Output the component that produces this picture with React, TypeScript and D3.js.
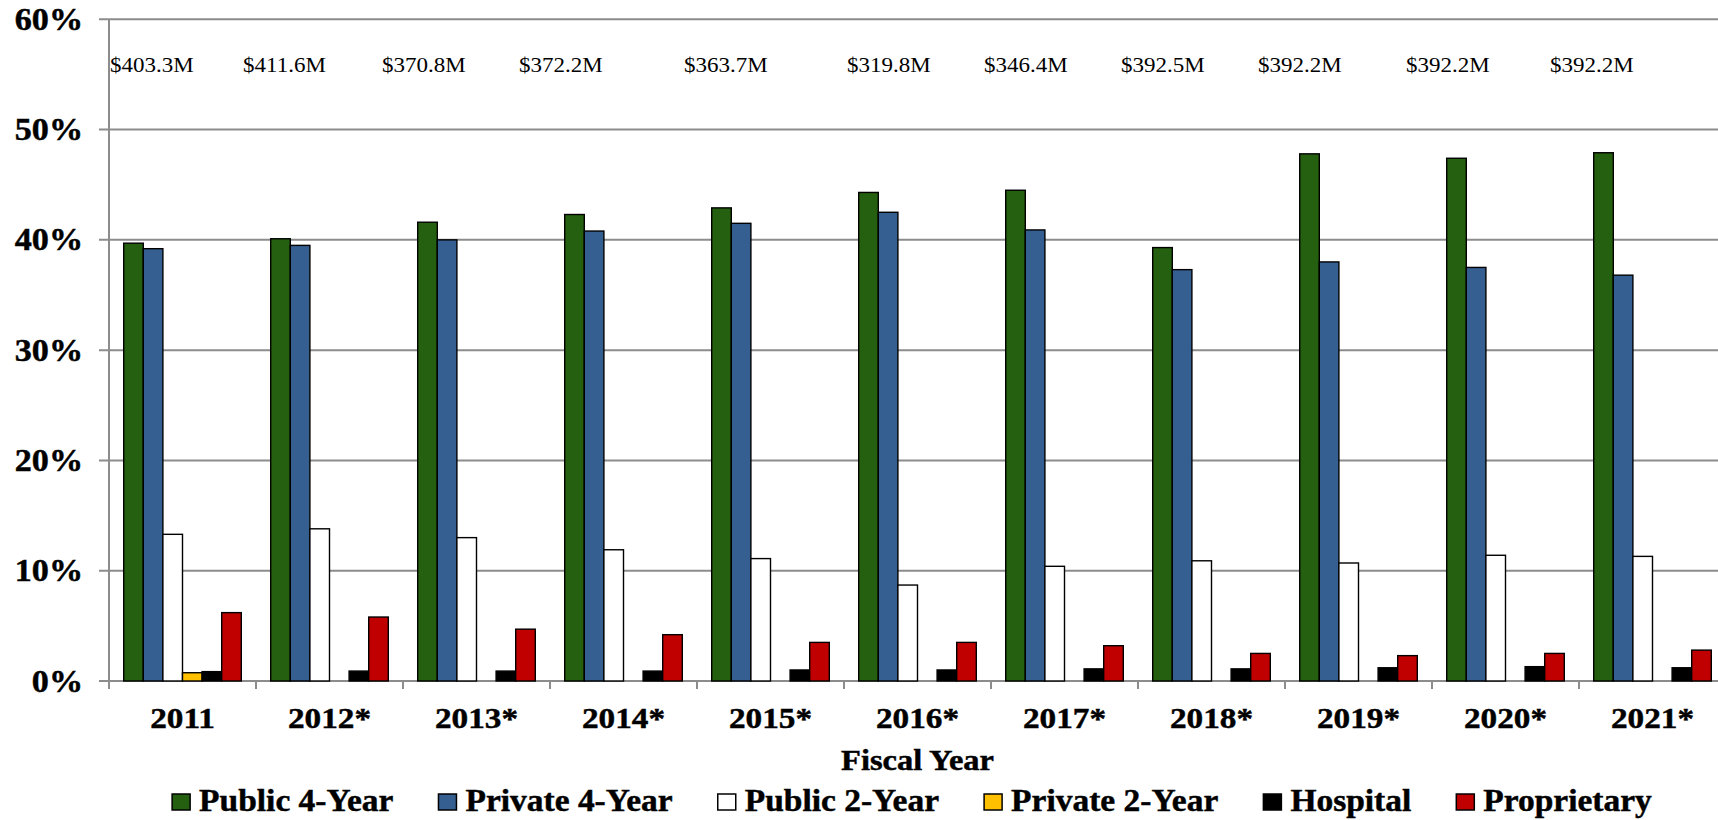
import { useMemo } from "react";
import * as d3 from "d3";

const years = ["2011", "2012*", "2013*", "2014*", "2015*", "2016*", "2017*", "2018*", "2019*", "2020*", "2021*"];
const totals = ["$403.3M", "$411.6M", "$370.8M", "$372.2M", "$363.7M", "$319.8M", "$346.4M", "$392.5M", "$392.2M", "$392.2M", "$392.2M"];

const public4 = [39.7, 40.1, 41.6, 42.3, 42.9, 44.3, 44.5, 39.3, 47.8, 47.4, 47.9];
const private4 = [39.2, 39.5, 40.0, 40.8, 41.5, 42.5, 40.9, 37.3, 38.0, 37.5, 36.8];
const public2 = [13.3, 13.8, 13.0, 11.9, 11.1, 8.7, 10.4, 10.9, 10.7, 11.4, 11.3];
const private2 = [0.75, 0, 0, 0, 0, 0, 0, 0, 0, 0, 0];
const hospital = [0.85, 0.9, 0.9, 0.9, 1.0, 1.0, 1.1, 1.1, 1.2, 1.3, 1.2];
const proprietary = [6.2, 5.8, 4.7, 4.2, 3.5, 3.5, 3.2, 2.5, 2.3, 2.5, 2.8];

const seriesNames = ["Public 4-Year", "Private 4-Year", "Public 2-Year", "Private 2-Year", "Hospital", "Proprietary"];
const seriesValues = [public4, private4, public2, private2, hospital, proprietary];
const seriesColors = ["#24600f", "#365f91", "#ffffff", "#ffc000", "#000000", "#c00000"];

// the text boxes with the totals were placed by hand, not centred on the groups
const TOTAL_SHIFT = [1, -13, -21, -31, -13, 3, -7, -17, -27, -26, -29];

const W = 1718;
const H = 820;
const FONT = "'Liberation Serif', 'Times New Roman', serif";
const LEFT = 109;
const STEP = 147;

const Txt = ({ x, y, size, weight = "bold", anchor = "middle", sx = 1.1, children }: any) => (
  <text
    transform={`translate(${x},${y}) scale(${sx},1)`}
    textAnchor={anchor}
    fontFamily={FONT}
    fontSize={size}
    fontWeight={weight}
    fill="#000"
    stroke={weight === "bold" ? "#000" : "none"}
    strokeWidth={weight === "bold" ? 0.45 : 0}
  >
    {children}
  </text>
);

export default function App() {
  const x0 = d3.scaleBand().domain(years).range([LEFT, LEFT + STEP * years.length]).padding(0);
  const x1 = d3
    .scaleBand()
    .domain(seriesNames)
    .range([0, x0.bandwidth()])
    .paddingInner(0)
    .paddingOuter(0.75);
  const y = d3.scaleLinear().domain([0, 60]).range([681, 19.3]);

  const LSX = 1.08;
  const LSIZE = 31;
  const legend = useMemo(() => {
    const ctx = document.createElement("canvas").getContext("2d");
    let widths = seriesNames.map(() => 200);
    if (ctx) {
      ctx.font = `bold ${LSIZE}px ${FONT}`;
      widths = seriesNames.map((n) => ctx.measureText(n).width * LSX);
    }
    const box = 18;
    const gapIn = 9;
    const gapOut = 45;
    const total = d3.sum(widths) + seriesNames.length * (box + gapIn) + (seriesNames.length - 1) * gapOut;
    let cx = 912 - total / 2;
    return seriesNames.map((n, i) => {
      const item = { name: n, color: seriesColors[i], bx: cx, tx: cx + box + gapIn };
      cx += box + gapIn + widths[i] + gapOut;
      return item;
    });
  }, []);

  const xEnd = x0.range()[1];

  return (
    <svg
      width={W}
      height={H}
      style={{ position: "absolute", left: 0, top: 0, display: "block", background: "#fff" }}
    >
      <rect x={0} y={0} width={W} height={H} fill="#fff" />

      {/* grid */}
      {y.ticks(6).map((t) => (
        <g key={t}>
          <line x1={LEFT - 10} x2={xEnd} y1={y(t)} y2={y(t)} stroke="#8c8c8c" strokeWidth={2} />
          <Txt x={83} y={y(t) + 10.5} size={31} anchor="end" sx={1.1}>
            {`${t}%`}
          </Txt>
        </g>
      ))}
      <line x1={LEFT} x2={LEFT} y1={y(60)} y2={y(0) + 8} stroke="#8c8c8c" strokeWidth={2} />
      {[...years.map((yr) => x0(yr) as number), xEnd].map((v, i) => (
        <line key={i} x1={v} x2={v} y1={y(0)} y2={y(0) + 8} stroke="#8c8c8c" strokeWidth={2} />
      ))}

      {/* bars */}
      {years.map((yr, i) => (
        <g key={yr} transform={`translate(${x0(yr)},0)`}>
          {seriesNames.map((s, j) => {
            const v = seriesValues[j][i];
            if (!v) return null;
            return (
              <rect
                key={s}
                x={x1(s)}
                y={y(v)}
                width={x1.bandwidth()}
                height={y(0) - y(v)}
                fill={seriesColors[j]}
                stroke="#000"
                strokeWidth={1.4}
              />
            );
          })}
        </g>
      ))}

      {/* totals */}
      {years.map((yr, i) => (
        <Txt key={yr} x={(x0(yr) as number) + TOTAL_SHIFT[i]} y={72} size={20} weight="normal" anchor="start" sx={1.15}>
          {totals[i]}
        </Txt>
      ))}

      {/* category labels */}
      {years.map((yr) => (
        <Txt key={yr} x={(x0(yr) as number) + x0.bandwidth() / 2} y={728} size={30.5} sx={1.09}>
          {yr}
        </Txt>
      ))}
      <Txt x={(LEFT + xEnd) / 2} y={770} size={29} sx={1.12}>
        Fiscal Year
      </Txt>

      {/* legend */}
      {legend.map((d) => (
        <g key={d.name}>
          <rect x={d.bx} y={794} width={18} height={16} fill={d.color} stroke="#000" strokeWidth={1.5} />
          <Txt x={d.tx} y={811} size={LSIZE} anchor="start" sx={LSX}>
            {d.name}
          </Txt>
        </g>
      ))}
    </svg>
  );
}
